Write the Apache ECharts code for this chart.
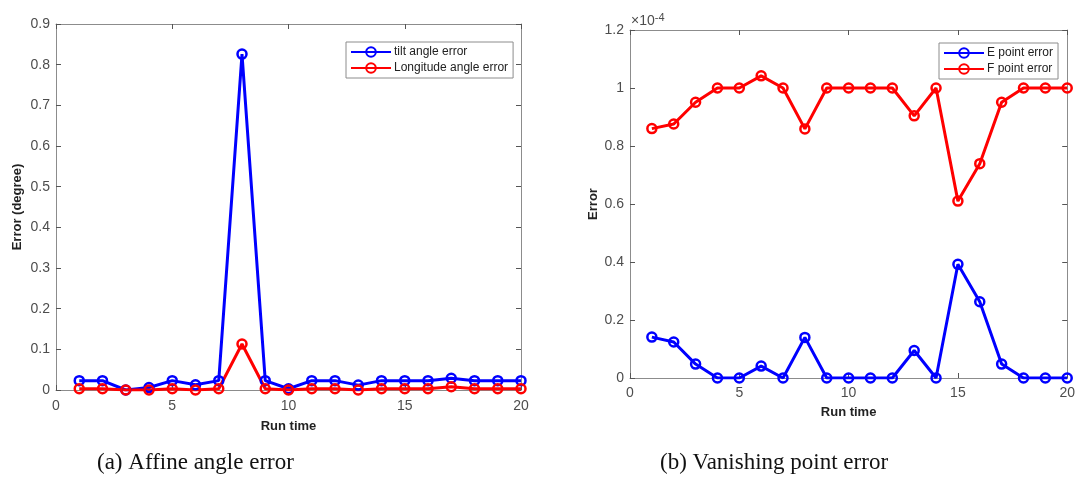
<!DOCTYPE html>
<html>
<head>
<meta charset="utf-8">
<script src="https://cdn.jsdelivr.net/npm/echarts@6/dist/echarts.min.js"></script>
<style>
  html, body { margin: 0; padding: 0; background: #fff; }
  #chart { width: 1078px; height: 477px; }
</style>
</head>
<body>
<div id="chart"></div>
<script>
// Run indices shared by both panels
const runs = [1, 2, 3, 4, 5, 6, 7, 8, 9, 10, 11, 12, 13, 14, 15, 16, 17, 18, 19, 20];

// (a) Affine angle error, in degrees
const tiltError = [0.023, 0.023, 0.000, 0.006, 0.023, 0.013, 0.023, 0.826, 0.023, 0.003,
                   0.023, 0.023, 0.012, 0.023, 0.023, 0.023, 0.029, 0.023, 0.023, 0.023];
const longitudeError = [0.003, 0.003, 0.000, 0.000, 0.003, 0.000, 0.003, 0.113, 0.003, 0.000,
                        0.003, 0.003, 0.000, 0.003, 0.003, 0.003, 0.008, 0.003, 0.003, 0.003];

// (b) Vanishing point error, in units of 1e-4
const ePointError = [0.141, 0.124, 0.048, 0.000, 0.000, 0.041, 0.000, 0.140, 0.000, 0.000,
                     0.000, 0.000, 0.095, 0.000, 0.392, 0.263, 0.048, 0.000, 0.000, 0.000];
const fPointError = [0.860, 0.876, 0.951, 1.000, 1.000, 1.042, 1.000, 0.859, 1.000, 1.000,
                     1.000, 1.000, 0.904, 1.000, 0.610, 0.739, 0.951, 1.000, 1.000, 1.000];

const seriesNames = ['tilt angle error', 'Longitude angle error', 'E point error', 'F point error'];
const captions = ['(a) Affine angle error', '(b) Vanishing point error'];

const BLUE = '#0000ff';
const RED = '#ff0000';
const FRAME = '#8c8c8c';
const TICKTEXT = '#4d4d4d';
const SANS = 'Liberation Sans, Arial, sans-serif';

const pairs = (ys) => runs.map((r, i) => [r, ys[i]]);

function lineSeries(name, color, ys, gi) {
  return {
    name: name,
    type: 'line',
    xAxisIndex: gi * 2,
    yAxisIndex: gi * 2,
    data: pairs(ys),
    symbol: 'circle',
    symbolSize: 9,
    showSymbol: true,
    animation: false,
    lineStyle: { color: color, width: 3 },
    itemStyle: { color: 'rgba(255,255,255,0)', borderColor: color, borderWidth: 2.5 },
    emphasis: { disabled: true },
    z: 3
  };
}

// Frame axis: line on its own side, short ticks pointing into the plot
function frameAxis(extra) {
  return Object.assign({
    type: 'value',
    axisLine: { show: true, onZero: false, lineStyle: { color: FRAME, width: 1 } },
    axisTick: { show: true, inside: true, length: 5, lineStyle: { color: '#555' } },
    splitLine: { show: false }
  }, extra);
}

function xAxes(gi, labelMargin, nameGap) {
  const range = { gridIndex: gi, min: 0, max: 20, interval: 5 };
  return [
    frameAxis(Object.assign({}, range, {
      position: 'bottom',
      axisLabel: { color: TICKTEXT, fontSize: 14, fontFamily: SANS, margin: labelMargin },
      name: 'Run time', nameLocation: 'middle', nameGap: nameGap,
      nameTextStyle: { color: '#222', fontWeight: 'bold', fontSize: 13, fontFamily: SANS }
    })),
    frameAxis(Object.assign({}, range, { position: 'top', axisLabel: { show: false } }))
  ];
}

function yAxes(gi, max, interval, name, nameGap, fmt) {
  const range = { gridIndex: gi, min: 0, max: max, interval: interval };
  return [
    frameAxis(Object.assign({}, range, {
      position: 'left',
      axisLabel: { color: TICKTEXT, fontSize: 14, fontFamily: SANS, margin: 6, formatter: fmt },
      name: name, nameLocation: 'middle', nameGap: nameGap,
      nameTextStyle: { color: '#222', fontWeight: 'bold', fontSize: 13, fontFamily: SANS }
    })),
    frameAxis(Object.assign({}, range, { position: 'right', axisLabel: { show: false } }))
  ];
}

function legend(names, left, top) {
  return {
    data: names,
    orient: 'vertical',
    left: left,
    top: top,
    itemWidth: 40,
    itemHeight: 12,
    itemGap: 4,
    padding: [4, 5, 4, 4],
    backgroundColor: '#fff',
    borderColor: '#8c8c8c',
    borderWidth: 1,
    borderRadius: 0,
    selectedMode: false,
    textStyle: { color: '#222', fontSize: 12, fontFamily: SANS, padding: [0, 0, 0, -2] }
  };
}

const chart = echarts.init(document.getElementById('chart'), null, { renderer: 'canvas' });

chart.setOption({
  animation: false,
  backgroundColor: '#fff',
  grid: [
    { left: 56, top: 24, width: 465, height: 366, containLabel: false },
    { left: 630, top: 30, width: 443, height: 348, containLabel: false }
  ],
  xAxis: [].concat(xAxes(0, 9, 30), xAxes(1, 8, 28)),
  yAxis: [].concat(
    yAxes(0, 0.9, 0.1, 'Error (degree)', 32, (v) => (v === 0 ? '0' : v.toFixed(1))),
    yAxes(1, 1.2, 0.2, 'Error', 30, (v) => (v === 0 || v === 1 ? String(v) : v.toFixed(1)))
  ),
  legend: [
    legend([seriesNames[0], seriesNames[1]], 346, 42),
    legend([seriesNames[2], seriesNames[3]], 939, 43)
  ],
  series: [
    lineSeries(seriesNames[0], BLUE, tiltError, 0),
    lineSeries(seriesNames[1], RED, longitudeError, 0),
    lineSeries(seriesNames[2], BLUE, ePointError, 1),
    lineSeries(seriesNames[3], RED, fPointError, 1)
  ],
  graphic: [
    {
      type: 'text', left: 631, top: 12,
      style: {
        text: '×10{sup|-4}',
        fill: TICKTEXT,
        font: '14px ' + SANS,
        rich: { sup: { fontSize: 11, fill: TICKTEXT, fontFamily: SANS, padding: [0, 0, 8, 0] } }
      }
    },
    {
      type: 'text', left: 97, top: 451,
      style: { text: captions[0], fill: '#111', font: '23px "Liberation Serif", "Times New Roman", serif' }
    },
    {
      type: 'text', left: 660, top: 451,
      style: { text: captions[1], fill: '#111', font: '23px "Liberation Serif", "Times New Roman", serif' }
    }
  ]
});
</script>
</body>
</html>
